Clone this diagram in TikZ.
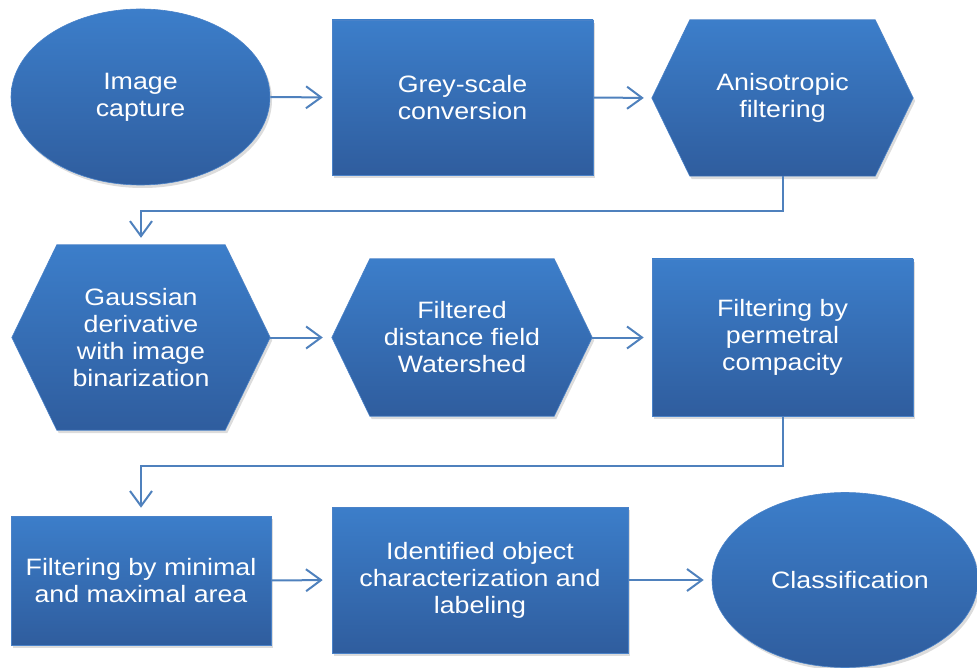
\documentclass[tikz,border=0pt]{standalone}
\usepackage{fontspec}
\setmainfont{Liberation Sans}[FakeStretch=1.13]
\usetikzlibrary{shapes.geometric,shadows,arrows.meta}
\pgfdeclarelayer{background}
\pgfsetlayers{background,main}
\definecolor{boxtop}{RGB}{60,126,202}
\definecolor{boxbot}{RGB}{47,93,158}
\definecolor{boxedge}{RGB}{74,130,200}
\definecolor{linkc}{RGB}{79,129,189}
\tikzset{
  boxshade/.style={top color=boxtop, bottom color=boxbot, draw=boxedge, line width=0.6pt,
    drop shadow={opacity=0.28, shadow xshift=2pt, shadow yshift=-3pt}},
  boxtext/.style={text=white, align=center, inner sep=0pt,
    font=\fontsize{23.7}{27}\selectfont},
  rectbox/.style={boxtext, boxshade, rectangle},
  ellbox/.style={boxtext, boxshade, ellipse},
  hexbox/.style={boxtext, rectangle},
  link/.style={draw=linkc, line width=2pt, -{Straight Barb[length=15pt,width=22pt]}},
}
\newcommand\hexfill[2]{%
  \begin{pgfonlayer}{background}
    \path[boxshade] (#1.west) -- ([xshift=#2]#1.north west) -- ([xshift=-#2]#1.north east)
      -- (#1.east) -- ([xshift=-#2]#1.south east) -- ([xshift=#2]#1.south west) -- cycle;
  \end{pgfonlayer}}
\begin{document}
\begin{tikzpicture}[x=1pt,y=-1pt]
\useasboundingbox (0,0) rectangle (977,668);
% row 1
\node[ellbox, minimum width=259pt, minimum height=176pt] (img) at (140.5,97) {Image\\capture};
\node[rectbox, minimum width=261pt, minimum height=155pt] (grey) at (462.5,97.5) {Grey-scale\\conversion};
\node[hexbox, minimum width=261pt, minimum height=156pt] (aniso) at (782.5,98) {Anisotropic\\filtering};
\hexfill{aniso}{38pt}
% row 2
\node[hexbox, minimum width=258pt, minimum height=185pt] (gauss) at (141,337.5) {Gaussian\\derivative\\with image\\binarization};
\hexfill{gauss}{45pt}
\node[hexbox, minimum width=260pt, minimum height=157pt] (filt) at (462,337.5) {Filtered\\distance field\\Watershed};
\hexfill{filt}{38pt}
\node[rectbox, minimum width=261pt, minimum height=157pt] (perm) at (782.5,337.5) {Filtering by\\permetral\\compacity};
% row 3
\node[rectbox, minimum width=260pt, minimum height=129pt] (area) at (141,580.5) {Filtering by minimal\\and maximal area};
\node[rectbox, minimum width=296pt, minimum height=146pt] (ident) at (480,580) {Identified object\\characterization and\\labeling};
\node[ellbox, minimum width=266pt, minimum height=175pt] (cls) at (845,580) {\hspace*{10pt}Classification};
% turn points
\coordinate (t1) at (460,211);
\coordinate (t2) at (460,466);
% connectors
\draw[link, shorten >=9pt] (img.east) -- (grey.west);
\draw[link, shorten >=8pt] (grey.east) -- (aniso.west);
\draw[link, shorten >=7pt] (aniso.south) |- (t1) -| (gauss.north);
\draw[link, shorten >=9pt] (gauss.east) -- (filt.west);
\draw[link, shorten >=8pt] (filt.east) -- (perm.west);
\draw[link, shorten >=8pt] (perm.south) |- (t2) -| (area.north);
\draw[link, shorten >=9pt] (area.east) -- (ident.west);
\draw[link, shorten >=8pt] (ident.east) -- (cls.west);
\end{tikzpicture}
\end{document}
